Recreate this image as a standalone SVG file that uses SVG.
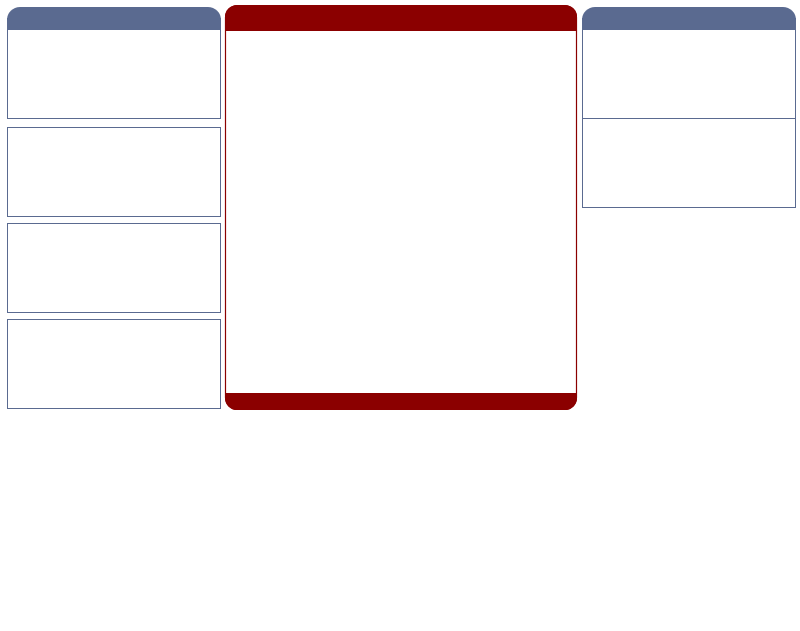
<svg xmlns="http://www.w3.org/2000/svg" width="800" height="631" viewBox="0 0 800 631">
<style>
.box{fill:#fff;stroke:#5a6a90;stroke-width:1}
.bh{fill:#5a6a90}
.rh{fill:#8b0000}
</style>
<rect width="800" height="631" fill="#fff"/>
<g id="left-panel">
<g id="left-box-1">
<rect class="box" x="7.5" y="18.5" width="213" height="100"/>
<path class="bh" d="M7,30 V20 A13,13 0 0 1 20,7 H208 A13,13 0 0 1 221,20 V30 Z"/>
</g>
<g id="left-box-2"><rect class="box" x="7.5" y="127.5" width="213" height="89"/></g>
<g id="left-box-3"><rect class="box" x="7.5" y="223.5" width="213" height="89"/></g>
<g id="left-box-4"><rect class="box" x="7.5" y="319.5" width="213" height="89"/></g>
</g>
<g id="center-panel">
<rect x="225.5" y="5.5" width="351" height="404" rx="12" fill="#fff" stroke="#8b0000" stroke-width="1.2"/>
<path class="rh" d="M225,31 V17 A12,12 0 0 1 237,5 H565 A12,12 0 0 1 577,17 V31 Z"/>
<path class="rh" d="M225,393 H577 V398 A12,12 0 0 1 565,410 H237 A12,12 0 0 1 225,398 Z"/>
</g>
<g id="right-panel">
<g id="right-box-1">
<rect class="box" x="582.5" y="18.5" width="213" height="100"/>
<path class="bh" d="M582,30 V20 A13,13 0 0 1 595,7 H783 A13,13 0 0 1 796,20 V30 Z"/>
</g>
<g id="right-box-2"><rect class="box" x="582.5" y="118.5" width="213" height="89"/></g>
</g>
<g id="connectors"></g>
</svg>
